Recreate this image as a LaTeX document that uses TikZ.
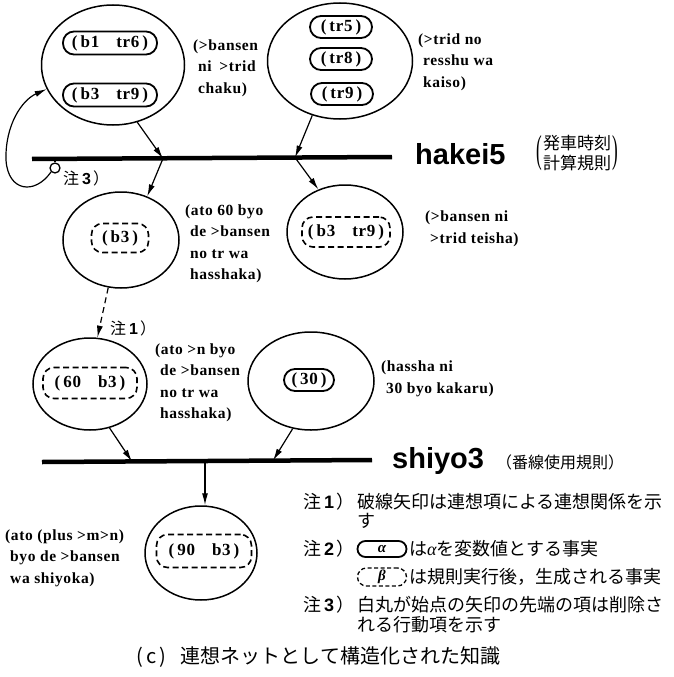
\documentclass[tikz,border=0pt]{standalone}
\usepackage{fontspec}
\setmainfont{Liberation Serif}
\newfontfamily\lbl[LetterSpace=4]{Liberation Serif}
\newfontfamily\cjk{Noto Sans CJK JP}
\newfontfamily\hsans{Liberation Sans}
\usetikzlibrary{shapes.geometric,arrows.meta}
\newcommand\ind{\hspace*{5pt}}
\newcommand\boxfont{\lbl\bfseries\fontsize{17}{20}\selectfont}
\newcommand\chu[1]{{\cjk 注}\kern3pt{\hsans\bfseries #1}\kern2pt{\cjk ）}}
\newcommand\bx[1]{(\kern3pt#1\kern3pt)}
\begin{document}
\begin{tikzpicture}[x=1pt,y=-1pt,
  ell/.style={ellipse,draw,line width=1.5pt,inner sep=0pt},
  fact/.style={rectangle,draw,rounded corners=11pt,line width=1.8pt,inner sep=0pt,font=\boxfont},
  newfact/.style={fact,dash pattern=on 6pt off 3.5pt,line width=1.6pt},
  bar/.style={line width=4.5pt},
  arr/.style={line width=1.2pt,-{Latex[length=12pt,width=6pt]}},
  lab/.style={align=left,anchor=west,inner sep=0pt,font=\lbl\bfseries\fontsize{15.5}{21.5}\selectfont},
  note/.style={anchor=west,inner sep=0pt,font=\cjk\fontsize{18}{20}\selectfont},
  rulename/.style={anchor=west,inner sep=0pt,font=\hsans\bfseries\fontsize{29}{30}\selectfont},
  chulab/.style={anchor=west,inner sep=0pt,font=\fontsize{16}{18}\selectfont},
  bigparen/.style={inner sep=0pt,font=\rmfamily\fontsize{17}{18}\selectfont}
]
\useasboundingbox (0,0) rectangle (673,677);

% top row
\node[ell,minimum width=143pt,minimum height=120pt] (E1) at (113,65) {};
\node[fact,minimum width=94pt,minimum height=23pt] (f1) at (110,43) {\bx{b1\quad tr6}};
\node[fact,minimum width=94pt,minimum height=23pt] (f2) at (110,95) {\bx{b3\quad tr9}};
\node[lab] (L1) at (193,68) {(>bansen\\\ind ni\enspace>trid\\\ind chaku)};

\node[ell,minimum width=145pt,minimum height=116pt] (E2) at (340,61) {};
\node[fact,minimum width=62pt,minimum height=22pt] (f3) at (341,27) {\bx{tr5}};
\node[fact,minimum width=62pt,minimum height=22pt] (f4) at (341,59) {\bx{tr8}};
\node[fact,minimum width=62pt,minimum height=22pt] (f5) at (342,94) {\bx{tr9}};
\node[lab] (L2) at (418,62) {(>trid no\\\ind resshu wa\\\ind kaiso)};

% rule hakei5
\coordinate (b1L) at (32,159);
\coordinate (b1R) at (392,157);
\coordinate (h1) at (163,158.5);
\coordinate (h2) at (295,157.5);
\draw[bar] (b1L) -- (b1R);
\node[rulename] (hk) at (415,154) {hakei5};
\node[anchor=west,inner sep=0pt,font=\cjk\fontsize{17}{20}\selectfont,align=left] (hkj) at (543,153)
  {発車時刻\\計算規則};
\node[bigparen,anchor=east] (hpl) at ([xshift=-1pt]hkj.west) {\scalebox{1}[2.3]{(}};
\node[bigparen,anchor=west] (hpr) at ([xshift=1pt]hkj.east) {\scalebox{1}[2.3]{)}};

\draw[arr] (E1.-67) -- (h1);
\draw[arr] (E2.-117) -- (h2);

% deletion loop
\node[circle,draw,line width=1.3pt,minimum size=10pt,inner sep=0pt] (oc) at (55,168) {};
\draw[line width=1.3pt] (oc.north) -- (oc.north |- b1L);
\draw[arr] (oc.south west) .. controls (35,195) and (8,192) .. (6,160)
  .. controls (5,125) and (22,100) .. (E1.200);
\node[chulab] (n3) at (63,178) {\chu{3}};

% middle row
\node[ell,minimum width=116pt,minimum height=96pt] (E3) at (121,240) {};
\node[newfact,minimum width=57pt,minimum height=29pt] (f6) at (120,238) {\bx{b3}};
\node[lab] (L3) at (185,244) {(ato 60 byo\\\ind de >bansen\\\ind no tr wa\\\ind hasshaka)};
\draw[arr] (h1) -- (E3.59);

\node[ell,minimum width=116pt,minimum height=94pt] (E4) at (345,232) {};
\node[newfact,minimum width=88pt,minimum height=30pt] (f7) at (346,232) {\bx{b3\quad tr9}};
\node[lab] (L4) at (425,229) {(>bansen ni\\\ind >trid teisha)};
\draw[arr] (h2) -- (E4.122);

% lower row
\node[ell,minimum width=114pt,minimum height=92pt] (E5) at (90,384) {};
\node[newfact,minimum width=94pt,minimum height=31pt] (f8) at (90,383) {\bx{60\quad b3}};
\node[lab] (L5) at (155,383) {(ato >n byo\\\ind de >bansen\\\ind no tr wa\\\ind hasshaka)};
\draw[arr,dash pattern=on 6pt off 4pt] (E3.-105) -- (E5.81);
\node[chulab] (n1) at (110,328) {\chu{1}};

\node[ell,minimum width=126pt,minimum height=98pt] (E6) at (311,381) {};
\node[fact,minimum width=50pt,minimum height=22pt] (f9) at (309,380) {\bx{30}};
\node[lab] (L6) at (381,379) {(hassha ni\\\ind 30 byo kakaru)};

% rule shiyo3
\coordinate (b2L) at (42,462);
\coordinate (b2R) at (372,460);
\coordinate (s1) at (132,461.5);
\coordinate (s2) at (273,460.5);
\coordinate (s3) at (205,461);
\draw[bar] (b2L) -- (b2R);
\node[rulename] (sh) at (392,461) {shiyo3};
\node[anchor=west,inner sep=0pt,font=\cjk\fontsize{16}{18}\selectfont] (shj) at (496,462) {（番線使用規則）};
\draw[arr] (E5.-66) -- (s1);
\draw[arr] (E6.-111) -- (s2);

\node[ell,minimum width=112pt,minimum height=94pt] (E7) at (201,553) {};
\node[newfact,minimum width=95pt,minimum height=33pt] (f10) at (204,551) {\bx{90\quad b3}};
\node[lab] (L7) at (5,558) {(ato (plus >m>n)\\\ind byo de >bansen\\\ind wa shiyoka)};
\draw[arr] (s3) -- (s3 |- E7.north);

% notes
\node[chulab,font=\fontsize{18}{20}\selectfont] (m1) at (303,502) {\chu{1}};
\node[note] (t1) at (357,502) {破線矢印は連想項による連想関係を示};
\node[note] (t1b) at (357,521) {す};
\node[chulab,font=\fontsize{18}{20}\selectfont] (m2) at (303,549) {\chu{2}};
\node[fact,minimum width=49pt,minimum height=16pt,rounded corners=8pt,font=\rmfamily\bfseries\itshape\fontsize{15}{16}\selectfont] (ka) at (382,549) {α};
\node[note] (t2) at (409,549) {は{\rmfamily\itshape α}を変数値とする事実};
\node[newfact,minimum width=49pt,minimum height=18pt,rounded corners=9pt,line width=1.3pt,dash pattern=on 4pt off 2.5pt,font=\rmfamily\bfseries\itshape\fontsize{15}{16}\selectfont] (kb) at (382,577) {β};
\node[note] (t3) at (409,577) {は規則実行後，生成される事実};
\node[chulab,font=\fontsize{18}{20}\selectfont] (m3) at (303,605) {\chu{3}};
\node[note] (t4) at (357,605) {白丸が始点の矢印の先端の項は削除さ};
\node[note] (t4b) at (357,625) {れる行動項を示す};

% caption
\node[anchor=west,inner sep=0pt,font=\cjk\fontsize{20}{22}\selectfont] (cap) at (136,657) {(\,c\,)\hspace{14pt}連想ネットとして構造化された知識};
\end{tikzpicture}
\end{document}
